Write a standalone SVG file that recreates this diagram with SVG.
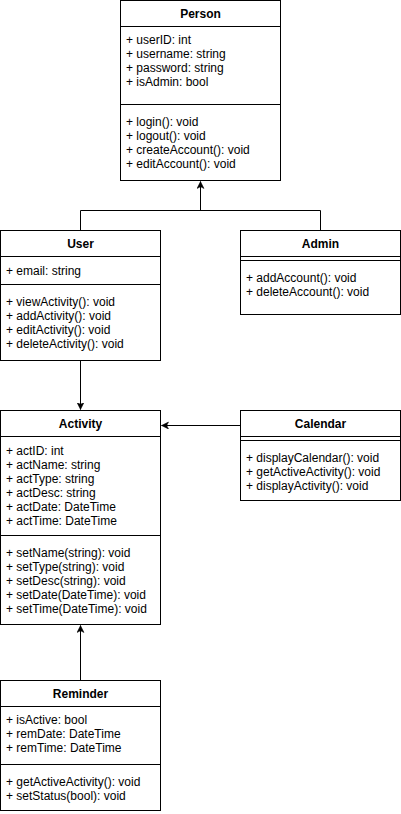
<svg xmlns="http://www.w3.org/2000/svg" width="401" height="814" viewBox="0 0 401 814">
<defs>
<style>
.box{fill:#fff;stroke:#000;stroke-width:1}
.ln{stroke:#000;stroke-width:1;fill:none}
.t{font-family:"Liberation Sans",Arial,sans-serif;font-size:12px;fill:#000}
.h{font-family:"Liberation Sans",Arial,sans-serif;font-size:12px;font-weight:bold;fill:#000;text-anchor:middle}
</style>
<marker id="arr" markerWidth="8" markerHeight="8" refX="7" refY="3.5" orient="auto" markerUnits="userSpaceOnUse">
<path d="M0,0 L7,3.5 L0,7 L1.8,3.5 z" fill="#000" stroke="#000" stroke-width="0.5"/>
</marker>
</defs>
<rect width="401" height="814" fill="#fff"/>
<g id="connectors">
<path class="ln" d="M80.5,230.5 V210.5 H320.5 V230.5"/>
<path class="ln" d="M200.5,210.5 V181.5" marker-end="url(#arr)"/>
<path class="ln" d="M80.5,360.5 V409.5" marker-end="url(#arr)"/>
<path class="ln" d="M240.5,425.5 H161.5" marker-end="url(#arr)"/>
<path class="ln" d="M80.5,680.5 V625.5" marker-end="url(#arr)"/>
</g>
<g id="person">
<rect class="box" x="120.5" y="0.5" width="160" height="180"/>
<path class="ln" d="M120.5,26.5 H280.5 M120.5,104.5 H280.5"/>
<text class="h" x="200.5" y="18">Person</text>
<text class="t" x="126" y="44">+ userID: int</text>
<text class="t" x="126" y="58">+ username: string</text>
<text class="t" x="126" y="72">+ password: string</text>
<text class="t" x="126" y="86">+ isAdmin: bool</text>
<text class="t" x="126" y="126">+ login(): void</text>
<text class="t" x="126" y="140">+ logout(): void</text>
<text class="t" x="126" y="154">+ createAccount(): void</text>
<text class="t" x="126" y="168">+ editAccount(): void</text>
</g>
<g id="user">
<rect class="box" x="0.5" y="230.5" width="160" height="130"/>
<path class="ln" d="M0.5,256.5 H160.5 M0.5,284.5 H160.5"/>
<text class="h" x="80.5" y="248">User</text>
<text class="t" x="6" y="274.5">+ email: string</text>
<text class="t" x="6" y="306">+ viewActivity(): void</text>
<text class="t" x="6" y="320">+ addActivity(): void</text>
<text class="t" x="6" y="334">+ editActivity(): void</text>
<text class="t" x="6" y="348">+ deleteActivity(): void</text>
</g>
<g id="admin">
<rect class="box" x="240.5" y="230.5" width="160" height="84"/>
<path class="ln" d="M240.5,256.5 H400.5 M240.5,260.5 H400.5"/>
<text class="h" x="320.5" y="248">Admin</text>
<text class="t" x="246" y="282">+ addAccount(): void</text>
<text class="t" x="246" y="296">+ deleteAccount(): void</text>
</g>
<g id="activity">
<rect class="box" x="0.5" y="410.5" width="160" height="214"/>
<path class="ln" d="M0.5,436.5 H160.5 M0.5,535.5 H160.5"/>
<text class="h" x="80.5" y="428">Activity</text>
<text class="t" x="6" y="454.5">+ actID: int</text>
<text class="t" x="6" y="468.5">+ actName: string</text>
<text class="t" x="6" y="482.5">+ actType: string</text>
<text class="t" x="6" y="496.5">+ actDesc: string</text>
<text class="t" x="6" y="510.5">+ actDate: DateTime</text>
<text class="t" x="6" y="524.5">+ actTime: DateTime</text>
<text class="t" x="6" y="556.5">+ setName(string): void</text>
<text class="t" x="6" y="570.5">+ setType(string): void</text>
<text class="t" x="6" y="584.5">+ setDesc(string): void</text>
<text class="t" x="6" y="598.5">+ setDate(DateTime): void</text>
<text class="t" x="6" y="612.5">+ setTime(DateTime): void</text>
</g>
<g id="calendar">
<rect class="box" x="240.5" y="410.5" width="160" height="90"/>
<path class="ln" d="M240.5,436.5 H400.5 M240.5,440.5 H400.5"/>
<text class="h" x="320.5" y="428">Calendar</text>
<text class="t" x="246" y="462">+ displayCalendar(): void</text>
<text class="t" x="246" y="476">+ getActiveActivity(): void</text>
<text class="t" x="246" y="490">+ displayActivity(): void</text>
</g>
<g id="reminder">
<rect class="box" x="0.5" y="680.5" width="160" height="130"/>
<path class="ln" d="M0.5,706.5 H160.5 M0.5,764.5 H160.5"/>
<text class="h" x="80.5" y="698">Reminder</text>
<text class="t" x="6" y="724">+ isActive: bool</text>
<text class="t" x="6" y="738">+ remDate: DateTime</text>
<text class="t" x="6" y="752">+ remTime: DateTime</text>
<text class="t" x="6" y="786">+ getActiveActivity(): void</text>
<text class="t" x="6" y="800">+ setStatus(bool): void</text>
</g>
</svg>
